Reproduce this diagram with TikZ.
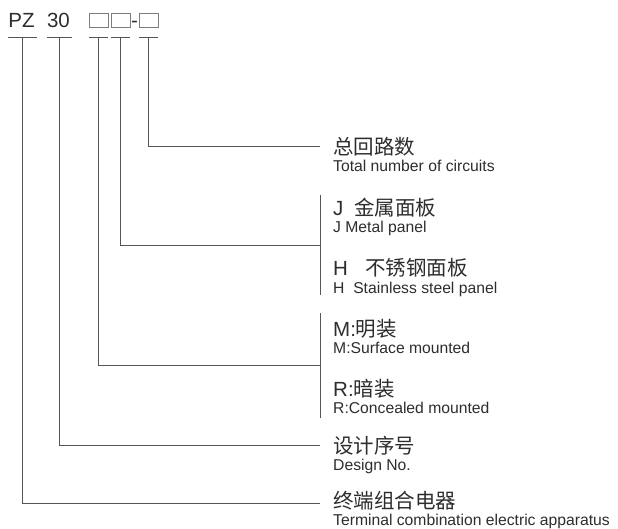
\documentclass[tikz,border=0pt]{standalone}
\usepackage{fontspec}
\setmainfont{Liberation Sans}
\newfontfamily\cjk{Noto Sans CJK SC}
\usetikzlibrary{positioning}
\definecolor{lineGray}{RGB}{85,85,85}
\definecolor{textGray}{RGB}{45,45,45}
\definecolor{boxGray}{RGB}{125,125,125}
\tikzstyle{lead} = [draw=lineGray, line width=1pt]

\begin{document}
\begin{tikzpicture}
[x=1pt,y=-1pt,%
codeText/.style={anchor=base,inner sep=0pt,text=textGray,font=\fontsize{20.5}{24}\selectfont},
codeBox/.style={draw=boxGray,line width=0.9pt,minimum width=19pt,minimum height=14.5pt,inner sep=0pt},
zhText/.style={anchor=base west,inner sep=0pt,text=textGray,font=\fontsize{20.5}{24}\selectfont},
enText/.style={anchor=base west,inner sep=0pt,text=textGray,font=\fontsize{15.7}{18}\selectfont}]

\useasboundingbox (0,0) rectangle (618,529);

%% model code
\node[codeText] (pz) at (21.5,27.5) {PZ};
\node[codeText] (no) at (58.5,27.5) {30};
\node[codeBox] (ba) at (98.5,20.5) {};
\node[codeBox] (bb) at (120.5,20.5) {};
\node[codeText] (dash) at (134.5,27.5) {-};
\node[codeBox] (bc) at (148.5,20.5) {};

%% underlines
\foreach \name/\x/\w in {pz/22.5/14.5, no/59.5/12.5, ba/98.5/9.5, bb/120.5/9.5, bc/148.5/9.5}
{
\coordinate (u\name) at (\x,37.5);
\draw[lead] ([xshift=-\w pt]u\name) -- ([xshift=\w pt]u\name);
}

%% line ends
\coordinate (total) at (320,147);
\coordinate (panel) at (320,246);
\coordinate (jTop) at (320,195);
\coordinate (hBot) at (320,295);
\coordinate (mount) at (320,365);
\coordinate (mTop) at (320,313);
\coordinate (rBot) at (320,418);
\coordinate (design) at (320,445);
\coordinate (terminal) at (320,503);

%% leads
\draw[lead] (ubc) |- (total);
\draw[lead] (ubb) |- (panel);
\draw[lead] (uba) |- (mount);
\draw[lead] (uno) |- (design);
\draw[lead] (upz) |- (terminal);
\draw[lead] (jTop) -- (hBot);
\draw[lead] (mTop) -- (rBot);

%% labels
\foreach \name/\y/\zh/\en in {
total/147/{\cjk 总回路数}/{Total number of circuits},
metal/208/{J\hspace{11pt}\cjk 金属面板}/{J Metal panel},
steel/268/{H\hspace{17pt}\cjk 不锈钢面板}/{H~~Stainless steel panel},
surface/328/{M:\cjk 明装}/{M:Surface mounted},
conceal/388/{R:\cjk 暗装}/{R:Concealed mounted},
design/445/{\cjk 设计序号}/{Design No.},
terminal/500/{\cjk 终端组合电器}/{Terminal combination electric apparatus}}
{
\node[zhText] (\name Zh) at (333,\y+8) {\zh};
\node[enText] (\name En) at (333,\y+25) {\en};
}

\end{tikzpicture}
\end{document}
